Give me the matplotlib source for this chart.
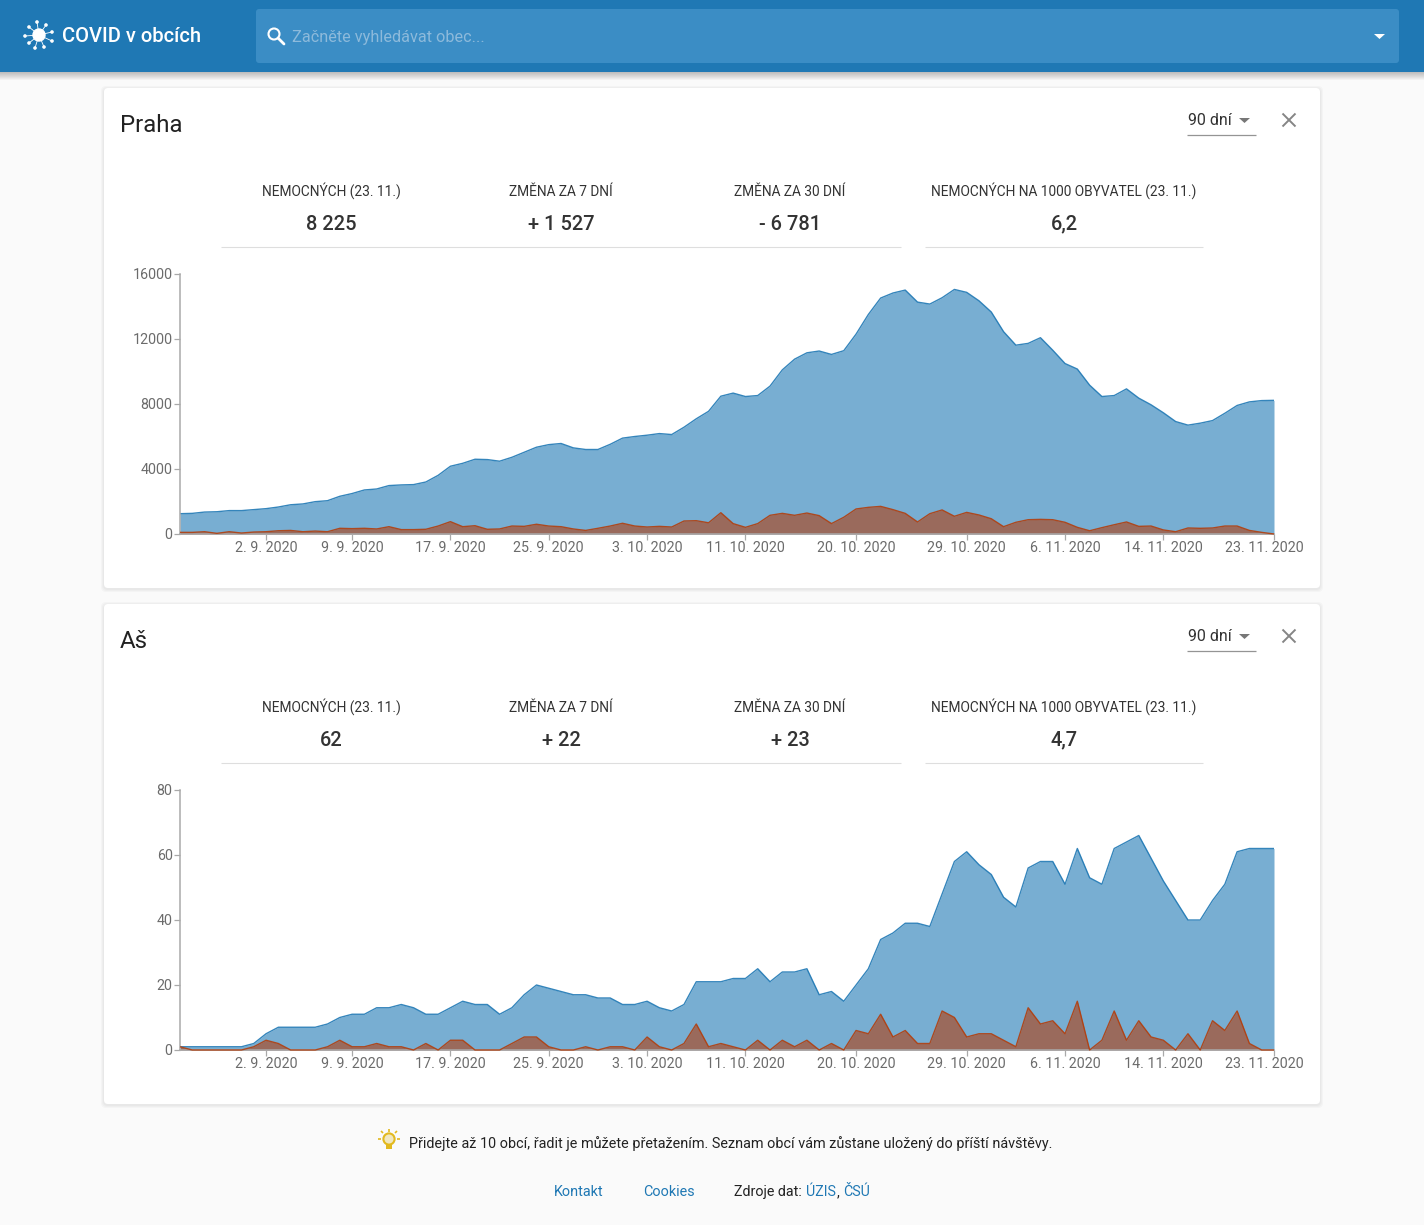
"""Rebuild the COVID v obcich dashboard screenshot."""

from __future__ import annotations

import matplotlib

matplotlib.use("Agg")
import matplotlib.pyplot as plt  # noqa: E402
import pandas as pd  # noqa: E402
from matplotlib.patches import Circle, FancyBboxPatch, Polygon, Rectangle  # noqa: E402
from matplotlib.transforms import ScaledTranslation  # noqa: E402

plt.rcParams["font.family"] = ["Roboto", "DejaVu Sans"]
plt.rcParams["lines.solid_capstyle"] = "butt"

WIDTH, HEIGHT = 1424, 1225
PRIMARY = "#1f78b4"
RED = "#b23e0d"
AXIS_GREY = "#a9a9a9"
TICK_TEXT = "#6b6b6b"

DATES = pd.date_range("2020-08-26", "2020-11-23", freq="D")
TICK_DATES = [
    "2020-09-02", "2020-09-09", "2020-09-17", "2020-09-25", "2020-10-03", "2020-10-11",
    "2020-10-20", "2020-10-29", "2020-11-06", "2020-11-14", "2020-11-23",
]

PRAHA_SICK = [
    1250, 1270, 1350, 1370, 1440, 1440, 1500, 1560, 1660, 1800,
    1850, 1990, 2050, 2320, 2490, 2710, 2770, 2980, 3020, 3040,
    3200, 3610, 4170, 4350, 4600, 4580, 4480, 4720, 5030, 5340,
    5500, 5570, 5300, 5200, 5200, 5520, 5900, 6000, 6080, 6180,
    6120, 6570, 7090, 7550, 8480, 8670, 8460, 8520, 9100, 10100,
    10760, 11150, 11260, 11050, 11280, 12300, 13510, 14520, 14830, 15010,
    14270, 14150, 14540, 15050, 14870, 14350, 13660, 12450, 11620, 11730,
    12080, 11310, 10490, 10150, 9160, 8460, 8520, 8930, 8360, 7950,
    7460, 6920, 6700, 6820, 6980, 7430, 7910, 8130, 8210, 8225,
]
PRAHA_NEW = [
    100, 100, 140, 40, 140, 60, 120, 140, 200, 220,
    140, 180, 140, 350, 330, 350, 310, 450, 270, 270,
    290, 490, 760, 450, 510, 290, 310, 490, 470, 600,
    490, 450, 310, 220, 350, 490, 660, 490, 430, 470,
    430, 800, 820, 690, 1310, 640, 410, 640, 1150, 1270,
    1150, 1290, 1130, 640, 1030, 1540, 1640, 1700, 1500, 1270,
    740, 1250, 1480, 1090, 1330, 1170, 940, 450, 720, 880,
    900, 880, 720, 410, 200, 390, 570, 740, 470, 490,
    250, 140, 370, 350, 370, 490, 490, 220, 100, 0,
]
AS_SICK = [
    1, 1, 1, 1, 1, 1, 2, 5, 7, 7,
    7, 7, 8, 10, 11, 11, 13, 13, 14, 13,
    11, 11, 13, 15, 14, 14, 11, 13, 17, 20,
    19, 18, 17, 17, 16, 16, 14, 14, 15, 13,
    12, 14, 21, 21, 21, 22, 22, 25, 21, 24,
    24, 25, 17, 18, 15, 20, 25, 34, 36, 39,
    39, 38, 48, 58, 61, 57, 54, 47, 44, 56,
    58, 58, 51, 62, 53, 51, 62, 64, 66, 59,
    52, 46, 40, 40, 46, 51, 61, 62, 62, 62,
]
AS_NEW = [
    1, 0, 0, 0, 0, 0, 1, 3, 2, 0,
    0, 0, 1, 3, 1, 1, 2, 1, 1, 0,
    2, 0, 3, 3, 0, 0, 0, 2, 4, 4,
    1, 0, 0, 1, 0, 1, 1, 0, 4, 1,
    0, 2, 8, 1, 2, 1, 0, 3, 0, 3,
    1, 3, 0, 2, 0, 6, 5, 11, 4, 6,
    2, 2, 12, 10, 4, 5, 5, 3, 1, 13,
    8, 9, 5, 15, 0, 3, 12, 3, 9, 4,
    3, 0, 5, 0, 9, 6, 12, 2, 0, 0,
]
PRAHA_YTICKS = [0, 4000, 8000, 12000, 16000]
AS_YTICKS = [0, 20, 40, 60, 80]
STAT_LABELS = [
    "NEMOCNÝCH (23. 11.)", "ZMĚNA ZA 7 DNÍ", "ZMĚNA ZA 30 DNÍ",
    "NEMOCNÝCH NA 1000 OBYVATEL (23. 11.)",
]
PRAHA_STATS = ["8 225", "+ 1 527", "- 6 781", "6,2"]
AS_STATS = ["62", "+ 22", "+ 23", "4,7"]
STAT_CENTERS = [331, 561, 790, 1064]


def px(size: float) -> float:
    return size * 72 / 100


def draw_shadow(page, x0, y0, x1, y1, spread=3, offset=1, alpha=0.022):
    for step in range(spread, 0, -1):
        page.add_patch(
            FancyBboxPatch(
                (x0 - step, y0 - step + offset),
                x1 - x0 + 2 * step,
                y1 - y0 + 2 * step,
                boxstyle="round,pad=0,rounding_size=5",
                facecolor="black",
                edgecolor="none",
                alpha=alpha,
            )
        )


def draw_virus(page, cx, cy):
    page.add_patch(Circle((cx, cy), 6, color="white", zorder=3))
    spikes = [
        (-14, 1), (-10, -8), (-2, -13), (7, -10), (13, -3),
        (13, 6), (5, 12), (-4, 13), (-10, 8),
    ]
    for dx, dy in spikes:
        page.plot([cx, cx + dx], [cy, cy + dy], color="white", lw=0.6, zorder=3)
        page.add_patch(Circle((cx + dx, cy + dy), 1.1, color="white", zorder=3))


def draw_search(page, cx, cy):
    page.add_patch(Circle((cx, cy), 5.5, fill=False, edgecolor="white", lw=1.5))
    page.plot([cx + 4, cx + 10], [cy + 4, cy + 10], color="white", lw=2, solid_capstyle="round")


def draw_bulb(page, cx, cy):
    gold = "#e2b91e"
    page.add_patch(Circle((cx, cy), 5.6, facecolor="#f0e7c0", edgecolor=gold, lw=1.5))
    page.add_patch(Rectangle((cx - 3, cy + 5), 6, 5, facecolor=gold, edgecolor="none"))
    for start, end in [
        ((-11, 0), (-8, 0)), ((8, 0), (11, 0)), ((-8, -8), (-6, -6)),
        ((8, -8), (6, -6)), ((0, -10), (0, -7.5)),
    ]:
        page.plot(
            [cx + start[0], cx + end[0]], [cy + start[1], cy + end[1]],
            color=gold, lw=1.2,
        )


def draw_card(page, top, title, stats):
    bottom = top + 500
    draw_shadow(page, 104, top, 1320, bottom)
    page.add_patch(
        FancyBboxPatch(
            (104, top), 1216, 500, boxstyle="round,pad=0,rounding_size=4",
            facecolor="white", edgecolor="none",
        )
    )
    page.text(120, top + 44, title, fontsize=px(24), color="#222222", va="baseline")
    page.text(1188, top + 37, "90 dní", fontsize=px(16), color="#333333", va="baseline")
    page.add_patch(
        Polygon(
            [(1239, top + 30), (1250, top + 30), (1244.5, top + 35)],
            facecolor="#777777", edgecolor="none",
        )
    )
    page.plot([1187, 1256], [top + 47, top + 47], color="#949494", lw=0.9)
    page.plot([1282.5, 1295.5], [top + 25.5, top + 38.5], color="#858585", lw=1.4)
    page.plot([1295.5, 1282.5], [top + 25.5, top + 38.5], color="#858585", lw=1.4)
    for center, label, value in zip(STAT_CENTERS, STAT_LABELS, stats):
        page.text(
            center, top + 107.6, label, fontsize=px(13.8), color="#333333",
            ha="center", va="baseline",
        )
        # the comma's descender pushes these a pixel low
        value_y = top + (141 if "," in value else 142)
        page.text(
            center, value_y, value, fontsize=px(20), color="#333333", weight=500,
            ha="center", va="baseline",
        )
    page.plot([221, 901], [top + 159, top + 159], color="#dedede", lw=0.8)
    page.plot([925, 1203], [top + 159, top + 159], color="#dedede", lw=0.8)


def draw_chart(figure, top, sick, new, yticks):
    axis = figure.add_axes(
        [180 / WIDTH, 1 - (top + 260) / HEIGHT, 1094 / WIDTH, 260 / HEIGHT],
        facecolor="none",
    )
    axis.fill_between(DATES, sick, color=PRIMARY, alpha=0.6, linewidth=0)
    axis.plot(DATES, sick, color=PRIMARY, linewidth=1.0, alpha=0.9)
    axis.fill_between(DATES, new, color=RED, alpha=0.6, linewidth=0)
    axis.plot(DATES, new, color=RED, linewidth=1.0, alpha=0.9, clip_on=False, zorder=3)
    axis.set_xlim(DATES[0], DATES[-1])
    axis.set_ylim(yticks[0], yticks[-1])
    ticks = pd.to_datetime(TICK_DATES)
    axis.set_xticks(ticks)
    axis.set_xticklabels([f"{tick.day}. {tick.month}. {tick.year}" for tick in ticks])
    axis.set_yticks(yticks)
    axis.set_yticklabels([str(tick) for tick in yticks])
    axis.tick_params(
        axis="both", length=4.3, width=0.9, color=AXIS_GREY, labelcolor=TICK_TEXT,
        labelsize=px(14.2),
    )
    axis.tick_params(axis="x", pad=1.0)
    axis.tick_params(axis="y", pad=1.0)
    for side in ("top", "right"):
        axis.spines[side].set_visible(False)
    for side in ("left", "bottom"):
        axis.spines[side].set_color(AXIS_GREY)
        axis.spines[side].set_linewidth(1.1)
    # the site pulls the last date label back inside the chart
    last_label = axis.get_xticklabels()[-1]
    last_label.set_transform(
        last_label.get_transform() + ScaledTranslation(-9.5 / 100, 0, figure.dpi_scale_trans)
    )
    for label in axis.get_yticklabels():
        label.set_transform(
            label.get_transform() + ScaledTranslation(0, 0.5 / 100, figure.dpi_scale_trans)
        )


def main() -> None:
    figure = plt.figure(figsize=(WIDTH / 100, HEIGHT / 100), dpi=100, facecolor="#fafafa")
    page = figure.add_axes([0, 0, 1, 1])
    page.set_xlim(0, WIDTH)
    page.set_ylim(HEIGHT, 0)
    page.axis("off")

    for step in range(8, 0, -1):
        page.add_patch(Rectangle((0, 72), WIDTH, step, facecolor="black", edgecolor="none", alpha=0.03))
    page.add_patch(Rectangle((0, 0), WIDTH, 72, facecolor=PRIMARY, edgecolor="none"))
    draw_virus(page, 39, 35)
    page.text(62, 42, "COVID v obcích", fontsize=px(20.2), color="white", weight=500, va="baseline")
    page.add_patch(
        FancyBboxPatch(
            (256, 9), 1143, 54, boxstyle="round,pad=0,rounding_size=3",
            facecolor="#3b8dc5", edgecolor="none",
        )
    )
    draw_search(page, 274, 34)
    page.text(292, 42, "Začněte vyhledávat obec...", fontsize=px(16.2), color="#8dbadb", va="baseline")
    page.add_patch(Polygon([(1374, 34), (1385, 34), (1379.5, 39)], facecolor="white", edgecolor="none"))

    draw_card(page, 88, "Praha", PRAHA_STATS)
    draw_card(page, 604, "Aš", AS_STATS)
    draw_chart(figure, 274, PRAHA_SICK, PRAHA_NEW, PRAHA_YTICKS)
    draw_chart(figure, 790, AS_SICK, AS_NEW, AS_YTICKS)

    draw_bulb(page, 389, 1139)
    page.text(
        409, 1148, "Přidejte až 10 obcí, řadit je můžete přetažením. Seznam obcí vám zůstane uložený do příští návštěvy.",
        fontsize=px(14.34), color="#222222", va="baseline",
    )
    page.text(554, 1196, "Kontakt", fontsize=px(14.4), color=PRIMARY, va="baseline")
    page.text(643, 1196, "Cookies", fontsize=px(14.4), color=PRIMARY, va="baseline")
    page.text(734, 1196, "Zdroje dat:", fontsize=px(14.3), color="#222222", va="baseline")
    page.text(806, 1196, "ÚZIS", fontsize=px(14.3), color=PRIMARY, va="baseline")
    page.text(837, 1196, ",", fontsize=px(14.3), color="#222222", va="baseline")
    page.text(843, 1196, "ČSÚ", fontsize=px(14.3), color=PRIMARY, va="baseline")

    figure.savefig("out.png", dpi=100, facecolor=figure.get_facecolor())
    plt.close(figure)


if __name__ == "__main__":
    main()
